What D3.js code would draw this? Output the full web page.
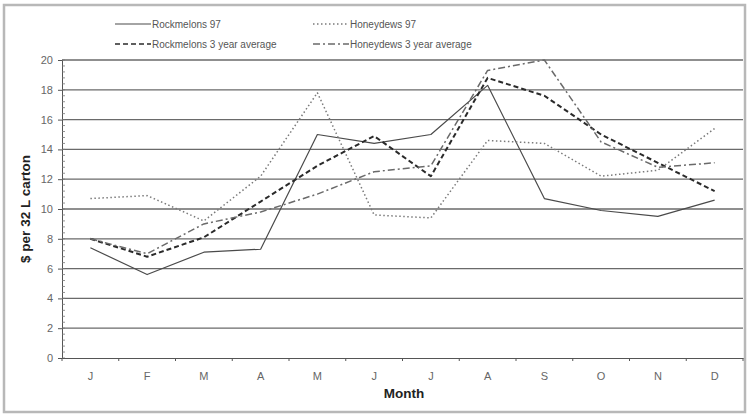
<!DOCTYPE html>
<html><head><meta charset="utf-8">
<script src="https://cdn.jsdelivr.net/npm/d3@7"></script>
<style>body{margin:0;background:#fff;}svg{display:block;font-family:"Liberation Sans",Arial,sans-serif;}</style>
</head><body>
<svg id="c" width="749" height="416"></svg>
<script>
const months = ["J","F","M","A","M","J","J","A","S","O","N","D"];
const rockmelons97 = [7.4,5.6,7.1,7.3,15.0,14.4,15.0,18.3,10.7,9.9,9.5,10.6];
const honeydews97 = [10.7,10.9,9.2,12.2,17.8,9.6,9.4,14.6,14.4,12.2,12.6,15.4];
const rockmelonsAvg = [8.0,6.8,8.1,10.5,12.9,14.9,12.2,18.8,17.6,15.0,13.1,11.2];
const honeydewsAvg = [8.0,7.0,9.0,9.8,11.0,12.5,12.9,19.3,20.0,14.5,12.8,13.1];
const yTicks = [0,2,4,6,8,10,12,14,16,18,20];
const seriesNames = ["Rockmelons 97","Honeydews 97","Rockmelons 3 year average","Honeydews 3 year average"];

const series = [
  {name:seriesNames[0], values:rockmelons97, stroke:"#4a4a4a", width:1.2, dash:null},
  {name:seriesNames[1], values:honeydews97, stroke:"#7a7a7a", width:1.5, dash:"1.5,2.5"},
  {name:seriesNames[2], values:rockmelonsAvg, stroke:"#2a2a2a", width:2, dash:"5,3"},
  {name:seriesNames[3], values:honeydewsAvg, stroke:"#6a6a6a", width:1.5, dash:"7,3,2,3"}
];

const svg = d3.select("#c");
const L = 62, R = 743, T = 60, B = 358;

// outer frame
svg.append("rect").attr("x",4).attr("y",5).attr("width",741).attr("height",407)
  .attr("fill","#fff").attr("stroke","#b8b8b8").attr("stroke-width",2.5);

const x = d3.scaleBand().domain(d3.range(months.length)).range([L,R]).padding(0);
const y = d3.scaleLinear().domain([0,20]).range([B,T]);

// gridlines
svg.append("g").selectAll("line").data(yTicks.filter(v=>v>0)).join("line")
  .attr("x1",L).attr("x2",R).attr("y1",d=>y(d)).attr("y2",d=>y(d))
  .attr("stroke","#6a6a6a").attr("stroke-width",1.3);

// y axis
const yAxis = svg.append("g").attr("transform",`translate(${L},0)`)
  .call(d3.axisLeft(y).tickValues(yTicks).tickSize(4).tickPadding(5).tickFormat(d3.format("d")));
yAxis.select(".domain").attr("stroke","#555");
yAxis.selectAll(".tick line").attr("stroke","#555");
yAxis.selectAll("text").attr("fill","#666").attr("font-size","11px");
// minor ticks
svg.append("g").selectAll("line").data(d3.range(0,20.01,0.4)).join("line")
  .attr("x1",L).attr("x2",L+3).attr("y1",d=>y(d)).attr("y2",d=>y(d))
  .attr("stroke","#777").attr("stroke-width",0.8);

// x axis
const xAxis = svg.append("g").attr("transform",`translate(0,${B})`)
  .call(d3.axisBottom(x).tickFormat(i=>months[i]).tickSize(0).tickPadding(14));
xAxis.select(".domain").attr("stroke","#555");
xAxis.selectAll("text").attr("fill","#666").attr("font-size","11px");
svg.append("g").selectAll("line").data(d3.range(months.length+1)).join("line")
  .attr("x1",i=>L + i*x.bandwidth()).attr("x2",i=>L + i*x.bandwidth())
  .attr("y1",B).attr("y2",B+3).attr("stroke","#555");

// lines
const line = d3.line().x((d,i)=>x(i)+x.bandwidth()/2).y(d=>y(d));
series.forEach(s=>{
  svg.append("path").datum(s.values).attr("d",line).attr("fill","none")
    .attr("stroke",s.stroke).attr("stroke-width",s.width)
    .attr("stroke-dasharray",s.dash).attr("stroke-linejoin","round");
});

// legend
const legPos = [[115,24],[313,24],[115,44],[313,44]];
series.forEach((s,i)=>{
  const [lx,ly] = legPos[i];
  const g = svg.append("g").attr("transform",`translate(${lx},${ly})`);
  g.append("line").attr("x1",0).attr("x2",36).attr("y1",0).attr("y2",0)
    .attr("stroke",s.stroke).attr("stroke-width",Math.min(s.width,1.5)).attr("stroke-dasharray",s.dash);
  g.append("text").attr("x",37).attr("y",3.5).attr("font-size","10px").attr("fill","#555").text(s.name);
});

// axis titles
svg.append("text").attr("transform","translate(30,209) rotate(-90)")
  .attr("text-anchor","middle").attr("font-weight","bold").attr("font-size","13.5px").attr("fill","#222")
  .text("$ per 32 L carton");
svg.append("text").attr("x",404).attr("y",398).attr("text-anchor","middle")
  .attr("font-weight","bold").attr("font-size","13.5px").attr("fill","#222").text("Month");
</script>
</body></html>
